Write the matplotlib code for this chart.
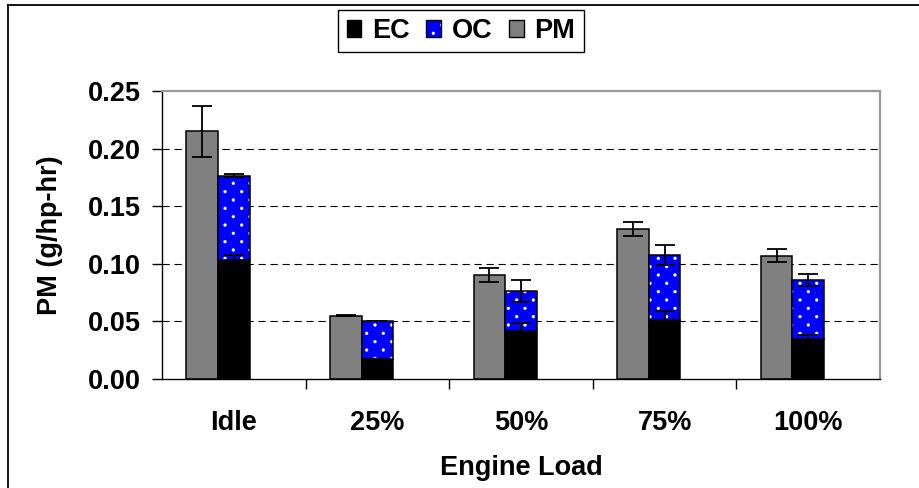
import numpy as np
import matplotlib
matplotlib.use("Agg")
import matplotlib.pyplot as plt
import matplotlib.hatch as mhatch
from matplotlib.path import Path
from matplotlib.patches import Patch
from matplotlib.lines import Line2D

categories = ['Idle', '25%', '50%', '75%', '100%']
pm = [0.215, 0.055, 0.090, 0.130, 0.107]
pm_err = [0.022, 0.0005, 0.006, 0.006, 0.0055]
ec = [0.103, 0.017, 0.042, 0.051, 0.035]
ec_err = [0.005, 0.0, 0.007, 0.008, 0.003]
oc = [0.0735, 0.0336, 0.0347, 0.0566, 0.0512]
total_err = [0.0015, 0.0, 0.0095, 0.009, 0.0053]
yticks = [0.00, 0.05, 0.10, 0.15, 0.20, 0.25]


# small dotted hatch like the reference (rows twice as dense as columns)
class DotLattice(mhatch.HatchPatternBase):
    radius = 0.014

    def __init__(self, hatch, density):
        n = hatch.count('.') * density
        self.pts = []
        if n > 0:
            nrows = 2 * n
            for r in range(nrows + 1):
                yv = r / nrows
                if r % 2 == 0:
                    xs = np.linspace(0, 1, n + 1)
                else:
                    xs = np.linspace(0.5 / n, 1 - 0.5 / n, n)
                self.pts += [(xv, yv) for xv in xs]
        circ = Path.unit_circle()
        self.cv = circ.vertices
        self.cc = circ.codes
        self.num_vertices = len(self.pts) * len(self.cv)

    def set_vertices_and_codes(self, vertices, codes):
        k = len(self.cv)
        for i, (px, py) in enumerate(self.pts):
            vertices[i * k:(i + 1) * k] = self.cv * self.radius + (px, py)
            codes[i * k:(i + 1) * k] = self.cc


mhatch._hatch_types = [DotLattice if t is mhatch.SmallFilledCircles else t
                       for t in mhatch._hatch_types]

plt.rcParams['font.family'] = ['Liberation Sans', 'DejaVu Sans']
plt.rcParams['font.weight'] = 'bold'
plt.rcParams['hatch.linewidth'] = 0.3
FS = 19.5

W, H = 919, 488
fig = plt.figure(figsize=(W / 100, H / 100), dpi=100)
ax = fig.add_axes([162 / W, 1 - 379 / H, (880 - 162) / W, (379 - 91) / H])

x = np.arange(len(categories))
w = 0.22
ec_a = np.array(ec)
oc_a = np.array(oc)
tot = ec_a + oc_a

ax.set_xlim(-0.5, len(categories) - 0.5)
ax.set_ylim(0, 0.25)

for yv in yticks[1:-1]:
    ax.axhline(yv, color='black', lw=0.8, dashes=(6.5, 4.3), zorder=0.5)

# PM bars
ax.bar(x - w, pm, w, color='#808080', edgecolor='black', linewidth=1.1, zorder=2)
# EC bars
ax.bar(x, ec, w, color='black', edgecolor='black', linewidth=1.1, zorder=2)
# OC bars (dotted)
ax.bar(x, oc, w, bottom=ec, color='#0000FF', edgecolor='white', linewidth=0,
       hatch='.', zorder=2)
ax.bar(x, oc, w, bottom=ec, color='none', edgecolor='black', linewidth=1.1, zorder=2.1)

ekw = dict(fmt='none', ecolor='black', elinewidth=1.3, capsize=7, capthick=1.3, zorder=3)
ax.errorbar(x - w, pm, yerr=pm_err, **ekw)
ax.errorbar(x, tot, yerr=total_err, **ekw)
ax.errorbar(x, ec, yerr=ec_err, **ekw)

# axes styling
ax.set_yticks(yticks)
ax.set_yticklabels([f'{v:.2f}' for v in yticks], fontsize=FS, fontweight='bold')
ax.tick_params(axis='y', direction='out', length=7, width=1, pad=8)
ax.set_xticks(np.arange(len(categories) - 1) + 0.5)
ax.set_xticklabels([])
ax.tick_params(axis='x', which='major', direction='out', length=7, width=1)
ax.set_xticks(x, minor=True)
ax.set_xticklabels(categories, minor=True, fontsize=FS, fontweight='bold')
ax.tick_params(axis='x', which='minor', length=0, pad=22)

for s in ['left', 'bottom']:
    ax.spines[s].set_color('black')
    ax.spines[s].set_linewidth(1.0)
for s in ['top', 'right']:
    ax.spines[s].set_color('#999999')
    ax.spines[s].set_linewidth(1.6)

ax.set_xlabel('Engine Load', fontsize=FS, fontweight='bold')
ax.xaxis.label.set_va('center')
ax.xaxis.set_label_coords(0.5, (379 - 468) / 288)
ax.set_ylabel('PM (g/hp-hr)', fontsize=FS, fontweight='bold')
ax.yaxis.label.set_va('center')
ax.yaxis.set_label_coords((50 - 162) / 718, 0.5)

# legend
h_ec = Patch(facecolor='black', edgecolor='black', linewidth=1)
h_oc = (Patch(facecolor='#0000FF', edgecolor='white', linewidth=0, hatch='.'),
        Patch(facecolor='none', edgecolor='black', linewidth=1))
h_pm = Patch(facecolor='#808080', edgecolor='black', linewidth=1)
leg = fig.legend([h_ec, h_oc, h_pm], ['EC', 'OC', 'PM'], loc='center',
                 bbox_to_anchor=(461 / W, 1 - 31 / H), ncol=3, frameon=True,
                 fancybox=False, edgecolor='black', framealpha=1,
                 prop={'size': FS, 'weight': 'bold'},
                 handlelength=0.55, handleheight=0.55, handletextpad=0.4,
                 columnspacing=0.6, borderpad=0.3)
leg.get_frame().set_linewidth(1.0)

# outer figure frame (left and top visible)
fig.add_artist(Line2D([8 / W, 8 / W], [0, 1 - 5 / H], color='black', lw=1.3))
fig.add_artist(Line2D([8 / W, 1], [1 - 5 / H, 1 - 5 / H], color='black', lw=1.3))

fig.savefig('out.png', dpi=100)
